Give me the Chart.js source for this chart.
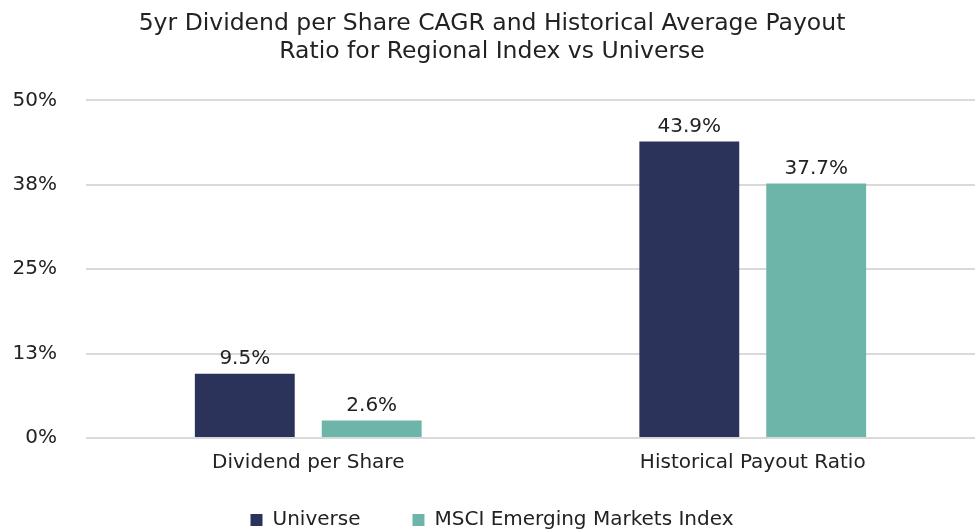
<!DOCTYPE html>
<html>
<head>
<meta charset="utf-8">
<script src="https://cdn.jsdelivr.net/npm/chart.js@4"></script>
<style>
  html, body { margin: 0; padding: 0; background: #fff; }
  #wrap { width: 975px; height: 531px; }
</style>
</head>
<body>
<div id="wrap"><canvas id="myChart"></canvas></div>
<script>
const categories = ['Dividend per Share', 'Historical Payout Ratio'];
const universe = [9.5, 43.9];
const msci = [2.6, 37.7];
const seriesNames = ['Universe', 'MSCI Emerging Markets Index'];
const titleLines = ['5yr Dividend per Share CAGR and Historical Average Payout', 'Ratio for Regional Index vs Universe'];

const FONT = "'DejaVu Sans', sans-serif";

// draws the value above each bar
const valueLabels = {
    id: 'valueLabels',
    afterDatasetsDraw(chart) {
        const ctx = chart.ctx;
        ctx.save();
        ctx.font = `20px ${FONT}`;
        ctx.fillStyle = '#222';
        ctx.textAlign = 'center';
        ctx.textBaseline = 'bottom';
        chart.data.datasets.forEach((ds, i) => {
            chart.getDatasetMeta(i).data.forEach((bar, j) => {
                ctx.fillText(ds.data[j].toFixed(1) + '%', bar.x, bar.y - 5);
            });
        });
        ctx.restore();
    }
};

const ctx = document.getElementById('myChart');

new Chart(ctx, {
    type: 'bar',
    data: {
        labels: categories,
        datasets: [{
            label: seriesNames[0],
            data: universe,
            backgroundColor: '#2b335b'
        }, {
            label: seriesNames[1],
            data: msci,
            backgroundColor: '#6db5a8'
        }]
    },
    plugins: [valueLabels],
    options: {
        responsive: true,
        maintainAspectRatio: false,
        animation: false,
        categoryPercentage: 0.571,
        barPercentage: 0.787,
        layout: { padding: { left: 9, right: 0, top: 2, bottom: -9 } },
        plugins: {
            title: {
                display: true,
                text: titleLines,
                color: '#222',
                font: { family: FONT, size: 23.5, weight: 'normal', lineHeight: 1.2 },
                padding: { top: 8, bottom: 34 }
            },
            legend: {
                position: 'bottom',
                labels: {
                    color: '#222',
                    font: { family: FONT, size: 20 },
                    boxWidth: 12,
                    boxHeight: 12,
                    padding: 2,
                    // extra gap after the first entry, like the reference
                    generateLabels: (chart) => {
                        const items = Chart.defaults.plugins.legend.labels.generateLabels(chart);
                        items[0].text = items[0].text + '\u2003\u2003\u2002';
                        return items;
                    }
                }
            },
            tooltip: { enabled: false }
        },
        scales: {
            x: {
                grid: { display: false },
                border: { display: false },
                ticks: { color: '#222', font: { family: FONT, size: 20 }, padding: 5 },
                afterFit: (scale) => { scale.height = 70; }
            },
            y: {
                min: 0,
                max: 50,
                border: { display: false },
                grid: { color: '#d9d9d9', lineWidth: 2, drawTicks: false },
                ticks: {
                    stepSize: 12.5,
                    padding: 29,
                    color: '#222',
                    font: { family: FONT, size: 20 },
                    callback: (value) => Math.round(value) + '%'
                },
                afterFit: (scale) => { scale.width = 77; }
            }
        }
    }
});
</script>
</body>
</html>
